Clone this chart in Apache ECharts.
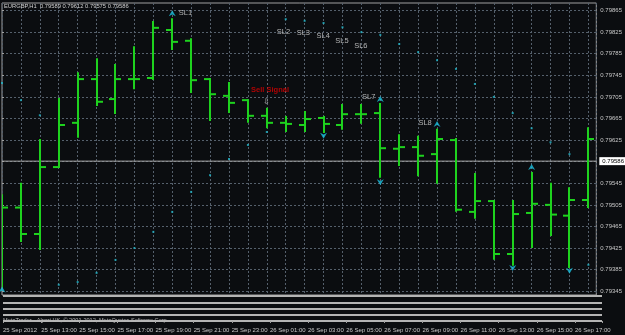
<!DOCTYPE html>
<html>
<head>
<meta charset="utf-8">
<script src="https://cdn.jsdelivr.net/npm/echarts@6.0.0/dist/echarts.min.js"></script>
<style>
  html, body { margin: 0; padding: 0; background: #0b0d10; }
  #chart { width: 625px; height: 335px; }
</style>
</head>
<body>
<div id="chart"></div>
<script>
// EURGBP H1 bars, 25 Sep 11:00 .. 26 Sep 18:00
const barTimes = [
  '25 Sep 2012', '25 Sep 12:00', '25 Sep 13:00', '25 Sep 14:00', '25 Sep 15:00', '25 Sep 16:00',
  '25 Sep 17:00', '25 Sep 18:00', '25 Sep 19:00', '25 Sep 20:00', '25 Sep 21:00', '25 Sep 22:00',
  '25 Sep 23:00', '26 Sep 00:00', '26 Sep 01:00', '26 Sep 02:00', '26 Sep 03:00', '26 Sep 04:00',
  '26 Sep 05:00', '26 Sep 06:00', '26 Sep 07:00', '26 Sep 08:00', '26 Sep 09:00', '26 Sep 10:00',
  '26 Sep 11:00', '26 Sep 12:00', '26 Sep 13:00', '26 Sep 14:00', '26 Sep 15:00', '26 Sep 16:00',
  '26 Sep 17:00', '26 Sep 18:00'
];
// open, high, low, close
const opens  = [0.79400, 0.79500, 0.79451, 0.79575, 0.79657, 0.79738, 0.79701, 0.79738, 0.79740, 0.79829, 0.79809, 0.79738,
                0.79707, 0.79699, 0.79670, 0.79657, 0.79653, 0.79666, 0.79653, 0.79673, 0.79675, 0.79609, 0.79612, 0.79599,
                0.79625, 0.79492, 0.79512, 0.79414, 0.79490, 0.79505, 0.79485, 0.79514];
const highs  = [0.79523, 0.79544, 0.79625, 0.79701, 0.79749, 0.79775, 0.79764, 0.79797, 0.79844, 0.79849, 0.79812, 0.79738,
                0.79731, 0.79699, 0.79683, 0.79668, 0.79677, 0.79668, 0.79690, 0.79690, 0.79692, 0.79634, 0.79631, 0.79644,
                0.79627, 0.79562, 0.79512, 0.79512, 0.79564, 0.79544, 0.79536, 0.79647];
const lows   = [0.79353, 0.79438, 0.79423, 0.79575, 0.79631, 0.79690, 0.79675, 0.79721, 0.79738, 0.79794, 0.79714, 0.79662,
                0.79677, 0.79659, 0.79649, 0.79642, 0.79642, 0.79640, 0.79646, 0.79657, 0.79557, 0.79579, 0.79560, 0.79546,
                0.79494, 0.79481, 0.79405, 0.79394, 0.79427, 0.79449, 0.79390, 0.79501];
const closes = [0.79500, 0.79451, 0.79575, 0.79653, 0.79738, 0.79696, 0.79738, 0.79738, 0.79833, 0.79807, 0.79736, 0.79710,
                0.79694, 0.79670, 0.79657, 0.79655, 0.79664, 0.79655, 0.79673, 0.79673, 0.79610, 0.79612, 0.79596, 0.79627,
                0.79496, 0.79512, 0.79414, 0.79488, 0.79507, 0.79487, 0.79514, 0.79627];

// trailing stop dots, one per bar
const stopDots = [0.79731, 0.79699, 0.79671, 0.79357, 0.79362, 0.79379, 0.79403, 0.79425, 0.79455, 0.79492, 0.79529, 0.79560,
                  0.79590, 0.79616, 0.79640, 0.79849, 0.79846, 0.79842, 0.79834, 0.79825, 0.79820, 0.79803, 0.79788, 0.79773,
                  0.79757, 0.79729, 0.79705, 0.79675, 0.79647, 0.79621, 0.79599, 0.79394];

// arrows: [bar, price]
const upArrows = [[0, 0.79348], [9, 0.79860], [20, 0.79701], [23, 0.79655], [28, 0.79575]];
const downArrows = [[17, 0.79633], [20, 0.79547], [27, 0.79388], [30, 0.79383]];

// chart objects text: [bar, price, text]
const slTexts = [
  [9.32, 0.79860, 'SL1'], [14.50, 0.79825, 'SL2'], [15.55, 0.79823, 'SL3'], [16.60, 0.79818, 'SL4'],
  [17.59, 0.79809, 'SL5'], [18.59, 0.79799, 'SL6'], [19.01, 0.79705, 'SL7'], [21.99, 0.79657, 'SL8'],
  [13.77, 0.79696, '⇩']
];
const signalTexts = [[13.14, 0.79718, 'Sell Signal']];

const priceTicks = [0.79345, 0.79385, 0.79425, 0.79465, 0.79505, 0.79545, 0.79585,
                    0.79625, 0.79665, 0.79705, 0.79745, 0.79785, 0.79825, 0.79865];
const lastPrice = 0.79586;
const headerText = 'EURGBP,H1  0.79589 0.79612 0.79575 0.79586';
const footerText = 'MetaTrader - Alpari UK, © 2001-2012, MetaQuotes Software Corp';

const FONT = 'Liberation Sans';
const BAR_COLOR = '#1ed21e';
const ARROW_COLOR = '#1cc0e0';
const X_MAX = 31.42;

const ohlcData = barTimes.map((t, i) => [i, opens[i], highs[i], lows[i], closes[i]]);

function renderOhlc(params, api) {
  const i = api.value(0);
  const hi = api.coord([i, api.value(2)]);
  const lo = api.coord([i, api.value(3)]);
  const op = api.coord([i, api.value(1)]);
  const cl = api.coord([i, api.value(4)]);
  const x = Math.round(hi[0]);
  const style = { stroke: BAR_COLOR, lineWidth: 2 };
  return {
    type: 'group',
    children: [
      { type: 'line', shape: { x1: x, y1: hi[1] - 1, x2: x, y2: lo[1] + 1 }, style: style },
      { type: 'line', shape: { x1: x - 6, y1: op[1], x2: x, y2: op[1] }, style: style },
      { type: 'line', shape: { x1: x, y1: cl[1], x2: x + 6, y2: cl[1] }, style: style }
    ]
  };
}

const dotted = { color: '#55606c', type: [2, 2], width: 1 };

const chart = echarts.init(document.getElementById('chart'));
chart.setOption({
  backgroundColor: '#0b0d10',
  animation: false,
  textStyle: { fontFamily: FONT },
  title: [
    { text: headerText, left: 4, top: 3, padding: 0, textStyle: { color: '#d0d0d0', fontSize: 5.8, fontWeight: 'normal', fontFamily: FONT } },
    { text: footerText, left: 3, top: 317, padding: 0, textStyle: { color: '#b8b8b8', fontSize: 5.6, fontWeight: 'normal', fontFamily: FONT } }
  ],
  grid: [
    { left: 2, right: 23, top: 3, height: 292, show: true, borderColor: '#a0a0a0', borderWidth: 1 },
    { left: 2, right: 23, top: 296, height: 25, show: false }
  ],
  xAxis: [
    {
      type: 'value', gridIndex: 0, min: 0, max: X_MAX, interval: 1,
      axisLine: { show: false }, axisTick: { show: false }, axisLabel: { show: false },
      splitLine: { show: true, lineStyle: dotted }
    },
    {
      type: 'value', gridIndex: 1, min: 0, max: X_MAX, interval: 2,
      axisLine: { show: false },
      axisTick: { show: true, length: 2, lineStyle: { color: '#a0a0a0' } },
      splitLine: { show: false },
      axisLabel: {
        show: true, align: 'left', margin: 6, color: '#c8c8c8', fontSize: 6, fontFamily: FONT,
        formatter: function (v) {
          if (v % 2 !== 0 || v >= barTimes.length) return '';
          return barTimes[v];
        }
      }
    }
  ],
  yAxis: [
    {
      type: 'value', gridIndex: 0, position: 'right', min: 0.79338, max: 0.79879, scale: true,
      axisLine: { show: false },
      axisTick: { show: true, length: 2, customValues: priceTicks, lineStyle: { color: '#a0a0a0' } },
      axisLabel: {
        show: true, customValues: priceTicks, margin: 4, color: '#c8c8c8', fontSize: 6, fontFamily: FONT,
        formatter: function (v) { return v.toFixed(5); }
      },
      splitLine: { show: true, lineStyle: dotted }
    },
    {
      type: 'value', gridIndex: 1, min: 0, max: 4, interval: 1,
      axisLine: { show: false }, axisTick: { show: false }, axisLabel: { show: false },
      splitLine: { show: true, lineStyle: { color: '#b4b4b4', width: 2, type: 'solid' } }
    }
  ],
  series: [
    {
      // bid line across the chart
      type: 'line', xAxisIndex: 0, yAxisIndex: 0, z: 2, showSymbol: false, silent: true,
      lineStyle: { color: '#a8a8a8', width: 1 },
      endLabel: {
        show: true, distance: 3, formatter: lastPrice.toFixed(5),
        backgroundColor: '#ffffff', color: '#000000', fontSize: 6, fontFamily: FONT, padding: [1, 3]
      },
      data: [[0, lastPrice], [X_MAX, lastPrice]]
    },
    {
      name: 'EURGBP', type: 'custom', xAxisIndex: 0, yAxisIndex: 0,
      renderItem: renderOhlc, clip: true, z: 3,
      encode: { x: 0, y: [1, 2, 3, 4] },
      data: ohlcData
    },
    {
      type: 'scatter', xAxisIndex: 0, yAxisIndex: 0, symbol: 'rect', symbolSize: 2, z: 4,
      itemStyle: { color: '#22b8cc' },
      data: stopDots.map((p, i) => [i, p])
    },
    {
      type: 'scatter', xAxisIndex: 0, yAxisIndex: 0, z: 5,
      symbol: 'path://M5,0L10,10L5,7L0,10Z', symbolSize: [7, 6],
      itemStyle: { color: ARROW_COLOR },
      data: upArrows
    },
    {
      type: 'scatter', xAxisIndex: 0, yAxisIndex: 0, z: 5,
      symbol: 'path://M0,0L5,3L10,0L5,10Z', symbolSize: [7, 6],
      itemStyle: { color: ARROW_COLOR },
      data: downArrows
    },
    {
      type: 'scatter', xAxisIndex: 0, yAxisIndex: 0, z: 6, symbolSize: 1,
      itemStyle: { color: 'rgba(0,0,0,0)' },
      label: { show: true, position: 'right', distance: 0, formatter: p => p.value[2], color: '#dcdcdc', fontSize: 7.5, fontFamily: FONT },
      data: slTexts
    },
    {
      type: 'scatter', xAxisIndex: 0, yAxisIndex: 0, z: 6, symbolSize: 1,
      itemStyle: { color: 'rgba(0,0,0,0)' },
      label: { show: true, position: 'right', distance: 0, formatter: p => p.value[2], color: '#d80000', fontSize: 7.5, fontWeight: 'bold', fontFamily: FONT },
      data: signalTexts
    },
    {
      // keeps the lower pane's axes alive
      type: 'line', xAxisIndex: 1, yAxisIndex: 1, data: [], showSymbol: false
    }
  ]
});
</script>
</body>
</html>
